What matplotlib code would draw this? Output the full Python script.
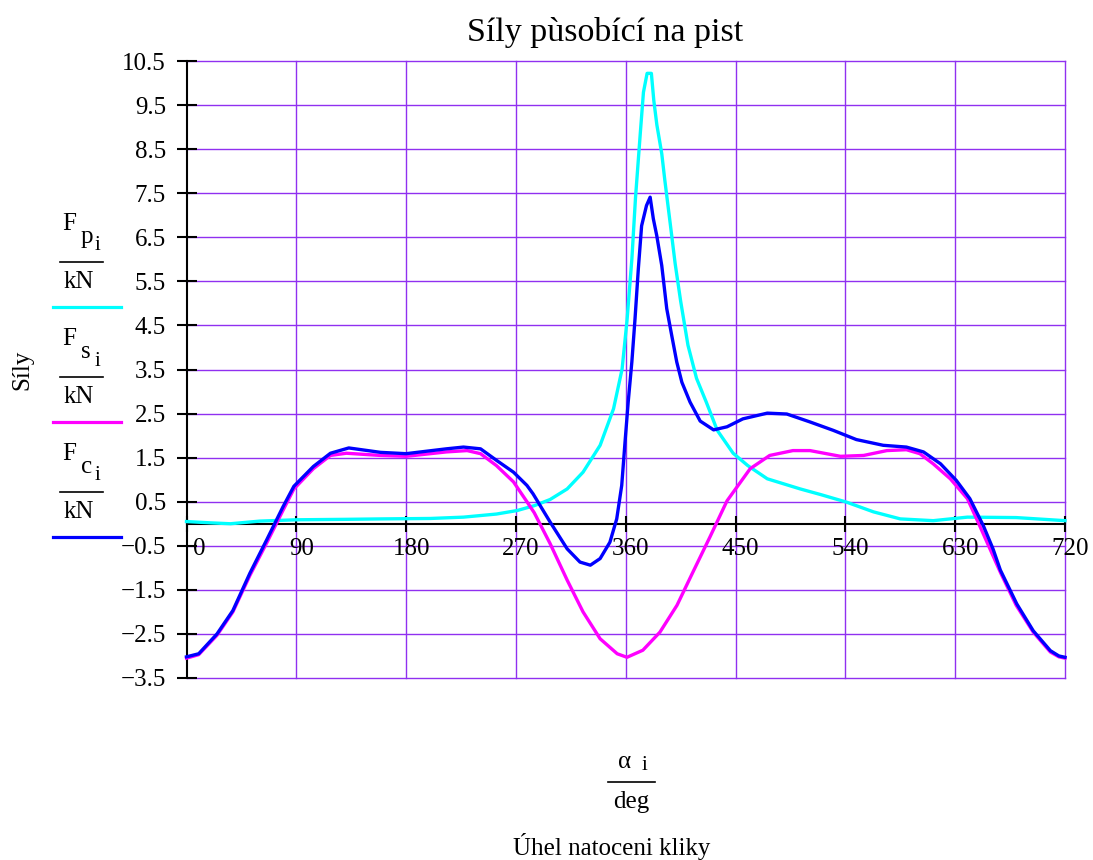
import matplotlib
matplotlib.use("Agg")
import matplotlib.pyplot as plt
from matplotlib.lines import Line2D

plt.rcParams['font.family'] = ['Liberation Serif', 'DejaVu Serif']

# Crank angle [deg] and forces [kN]
angle_p = [0, 20, 36, 60, 90, 130, 160, 200, 227, 254, 271, 285, 298, 312, 325, 339,
           350, 357, 361, 365, 368, 372, 374.5, 377.5, 381, 383, 385.5, 389.5, 392,
           396.5, 400.5, 405, 411, 418, 426, 435, 448, 460, 476, 503, 520, 541, 563,
           585, 612, 640, 680, 720]
force_p = [0.05, 0.02, 0.0, 0.06, 0.09, 0.10, 0.11, 0.12, 0.15, 0.22, 0.30, 0.41, 0.55,
           0.79, 1.17, 1.78, 2.61, 3.51, 4.6, 6.0, 7.4, 8.89, 9.79, 10.22, 10.22, 9.6,
           9.05, 8.4, 7.8, 6.8, 5.9, 5.05, 4.05, 3.3, 2.76, 2.12, 1.6, 1.32, 1.02, 0.79,
           0.66, 0.49, 0.27, 0.11, 0.07, 0.15, 0.14, 0.07]

angle_s = [0, 10, 25, 38, 52, 66, 79, 88, 104, 118, 131, 159, 180, 213, 230, 241, 254,
           268, 279, 285, 298, 312, 325, 339, 353, 361, 374, 388, 402, 415, 429, 443,
           462, 478, 497, 511, 536, 555, 574, 590, 601, 612, 626, 640, 650, 667, 680,
           694, 708, 715, 720]
force_s = [-3.05, -2.97, -2.53, -2.0, -1.17, -0.42, 0.3, 0.79, 1.25, 1.55, 1.6, 1.55,
           1.53, 1.63, 1.66, 1.59, 1.32, 0.95, 0.5, 0.25, -0.45, -1.28, -2.0, -2.61,
           -2.95, -3.03, -2.87, -2.46, -1.85, -1.1, -0.3, 0.52, 1.25, 1.55, 1.66, 1.66,
           1.53, 1.55, 1.66, 1.68, 1.59, 1.36, 1.02, 0.57, -0.04, -1.1, -1.85, -2.46,
           -2.91, -3.02, -3.05]

angle_c = [0, 10, 25, 38, 52, 66, 79, 88, 104, 118, 133, 159, 180, 213, 227, 241, 254,
           268, 279, 284, 298, 312, 322.5, 331, 339, 347, 352.6, 356.7, 359.4, 362, 365,
           367.6, 370.3, 373, 377, 380, 382.6, 385.4, 389.5, 393.6, 397.7, 401.8, 406,
           412.7, 421, 432, 443, 456, 476, 492, 511, 530, 549, 571, 590, 604, 618, 631,
           642, 653, 661, 667, 680.5, 694, 708, 715, 720]
force_c = [-3.02, -2.95, -2.5, -1.97, -1.12, -0.35, 0.38, 0.85, 1.3, 1.6, 1.72, 1.62,
           1.59, 1.7, 1.74, 1.70, 1.44, 1.17, 0.87, 0.68, 0.04, -0.57, -0.87, -0.94,
           -0.79, -0.42, 0.11, 0.87, 1.85, 2.76, 3.67, 4.65, 5.78, 6.76, 7.22, 7.41,
           6.92, 6.54, 5.86, 4.88, 4.27, 3.67, 3.21, 2.76, 2.33, 2.13, 2.2, 2.38, 2.51,
           2.49, 2.31, 2.12, 1.91, 1.78, 1.74, 1.63, 1.36, 0.98, 0.57, -0.04, -0.57,
           -1.05, -1.82, -2.43, -2.88, -3.0, -3.03]

x_ticks = [0, 90, 180, 270, 360, 450, 540, 630, 720]
y_ticks = [-3.5, -2.5, -1.5, -0.5, 0.5, 1.5, 2.5, 3.5, 4.5, 5.5, 6.5, 7.5, 8.5, 9.5, 10.5]

c_p, c_s, c_c = '#00ffff', '#ff00ff', '#0000ff'
grid_c = '#9030f0'

W, H = 1093, 860
fig = plt.figure(figsize=(W / 100, H / 100), dpi=100)
ax = fig.add_axes([186.5 / W, 1 - 678 / H, (1065 - 186.5) / W, (678 - 61) / H])


def fx(x):
    return x / W


def fy(y):
    return 1 - y / H


ax.set_xlim(0, 720)
ax.set_ylim(-3.5, 10.5)
ax.set_xticks(x_ticks)
ax.set_yticks(y_ticks)
ax.set_yticklabels([f"{v:.1f}".replace('-', '\u2212') for v in y_ticks])
ax.set_xticklabels([])

# Purple grid, including the outer lines at the limits
for v in x_ticks[1:]:
    ax.axvline(v, color=grid_c, lw=1.0, zorder=0.5, clip_on=False)
for v in y_ticks:
    ax.axhline(v, color=grid_c, lw=1.0, zorder=0.5, clip_on=False)

for s in ('top', 'right'):
    ax.spines[s].set_visible(False)
ax.spines['bottom'].set_position(('data', 0))
ax.spines['bottom'].set_zorder(1)
for s in ('bottom', 'left'):
    ax.spines[s].set_linewidth(1.5)
    ax.spines[s].set_color('black')

ax.tick_params(axis='y', direction='inout', length=14.5, width=1.5,
               labelsize=18, colors='black', pad=7.5)
ax.tick_params(axis='x', direction='inout', length=11, width=1.5, colors='black')

# Angle labels sit just below the zero line, nudged right of their ticks
for v in x_ticks:
    dx = 12.5 if v == 0 else 5
    ax.annotate(str(v), xy=(v, 0), xycoords='data', xytext=(dx, -25),
                textcoords='offset pixels', ha='center', va='center',
                fontsize=18, annotation_clip=False)

lw = 2.4
ax.plot(angle_p, force_p, color=c_p, lw=lw, zorder=3, clip_on=False)
ax.plot(angle_s, force_s, color=c_s, lw=lw, zorder=4, clip_on=False)
ax.plot(angle_c, force_c, color=c_c, lw=lw, zorder=5, clip_on=False)

# Title
fig.text(fx(605), fy(32), 'Síly pùsobící na pist', ha='center', va='center', fontsize=24.5)

# Y label and stacked legend entries
fig.text(fx(22), fy(370), 'Síly', rotation=90, ha='center', va='center', fontsize=18)


def legend_entry(sub, top_y, color):
    fig.text(fx(62), fy(top_y), 'F', ha='left', va='center', fontsize=18)
    fig.text(fx(81), fy(top_y + 13), sub, ha='left', va='center', fontsize=18)
    fig.text(fx(95), fy(top_y + 22), 'i', ha='left', va='center', fontsize=15)
    fig.add_artist(Line2D([fx(60), fx(103)], [fy(top_y + 38)] * 2, color='black', lw=1.2))
    fig.text(fx(79), fy(top_y + 58), 'kN', ha='center', va='center', fontsize=18)
    fig.add_artist(Line2D([fx(53), fx(121)], [fy(top_y + 83)] * 2, color=color, lw=2.3))


legend_entry('p', 224, c_p)
legend_entry('s', 339, c_s)
legend_entry('c', 454, c_c)

# X label: alpha_i / deg
fig.text(fx(625), fy(762), 'α', ha='center', va='center', fontsize=18)
fig.text(fx(644), fy(766), 'i', ha='center', va='center', fontsize=15)
fig.add_artist(Line2D([fx(608), fx(655)], [fy(782)] * 2, color='black', lw=1.2))
fig.text(fx(631), fy(802), 'deg', ha='center', va='center', fontsize=18)
fig.text(fx(612), fy(846), 'Úhel natoceni kliky', ha='center', va='center', fontsize=18)

fig.savefig('out.png', dpi=100)
